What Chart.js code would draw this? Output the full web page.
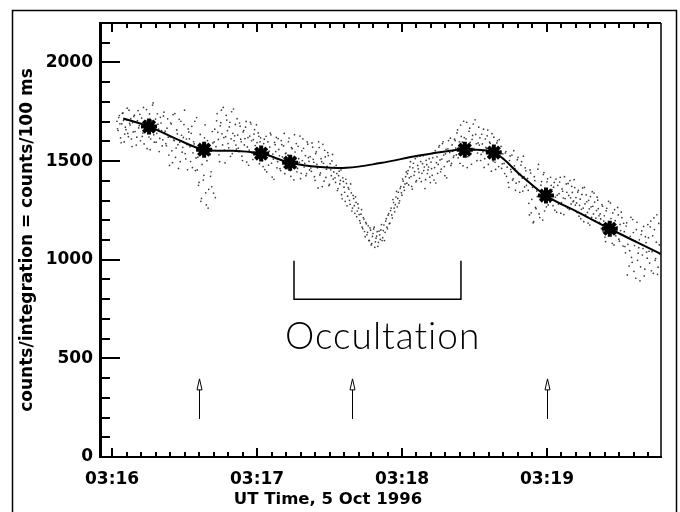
<!DOCTYPE html>
<html>
<head>
<meta charset="utf-8">
<script src="https://cdn.jsdelivr.net/npm/chart.js@4"></script>
<style>
  html, body { margin: 0; padding: 0; background: #fff; }
</style>
</head>
<body>
<canvas id="chart" width="680" height="512"></canvas>
<script>
// time in seconds after 03:16:00 UT
const xTickValues = [0, 60, 120, 180]
const xTickLabels = ['03:16', '03:17', '03:18', '03:19']
const yTickValues = [0, 500, 1000, 1500, 2000]

// raw counts, one every 0.5 s starting at 03:16:02 (second set offset by 0.25 s)
const sampleStart = 2
const sampleStep = 0.5
const counts = [
  1702, 1655, 1731, 1618, 1689, 1744, 1597, 1672, 1710, 1640, 1758, 1683, 1612, 1695, 1726, 1650, 1581, 1705, 1668, 1737,
  1690, 1625, 1772, 1648, 1705, 1563, 1681, 1739, 1612, 1664, 1795, 1596, 1713, 1641, 1687, 1548, 1722, 1655, 1608, 1748,
  1652, 1578, 1714, 1531, 1623, 1689, 1492, 1607, 1741, 1566, 1638, 1463, 1596, 1702, 1545, 1620, 1758, 1511, 1584, 1663,
  1613, 1498, 1676, 1542, 1587, 1452, 1721, 1520, 1392, 1635, 1311, 1566, 1428, 1684, 1278, 1604, 1357, 1532, 1446, 1650,
  1338, 1662, 1573, 1741, 1610, 1497, 1695, 1638, 1772, 1556, 1624, 1708, 1589, 1673, 1524, 1750, 1641, 1603, 1686, 1561,
  1632, 1548, 1677, 1598, 1503, 1655, 1614, 1701, 1572, 1479, 1627, 1688, 1541, 1609, 1660, 1522, 1594, 1643, 1487, 1618,
  1568, 1472, 1611, 1523, 1445, 1597, 1551, 1642, 1489, 1536, 1408, 1583, 1620, 1497, 1559, 1462, 1604, 1521, 1577, 1436,
  1541, 1462, 1598, 1507, 1423, 1563, 1482, 1634, 1519, 1446, 1575, 1494, 1411, 1552, 1613, 1470, 1528, 1437, 1586, 1499,
  1523, 1448, 1571, 1494, 1402, 1547, 1466, 1598, 1430, 1512, 1371, 1489, 1555, 1417, 1473, 1528, 1382, 1456, 1501, 1409,
  1468, 1392, 1437, 1361, 1449, 1402, 1330, 1415, 1368, 1296, 1387, 1322, 1358, 1281, 1339, 1262, 1310, 1235, 1291, 1247,
  1262, 1198, 1231, 1165, 1214, 1143, 1189, 1126, 1172, 1098, 1150, 1082, 1133, 1165, 1091, 1120, 1068, 1145, 1103, 1178,
  1112, 1176, 1139, 1208, 1157, 1234, 1186, 1262, 1211, 1290, 1243, 1318, 1268, 1342, 1299, 1371, 1327, 1398, 1352, 1421,
  1388, 1452, 1415, 1497, 1372, 1466, 1428, 1513, 1401, 1478, 1443, 1525, 1396, 1487, 1452, 1361, 1504, 1437, 1470, 1419,
  1495, 1428, 1541, 1467, 1389, 1522, 1483, 1579, 1446, 1510, 1598, 1472, 1537, 1415, 1562, 1501, 1616, 1488, 1550, 1527,
  1604, 1532, 1658, 1571, 1489, 1625, 1596, 1702, 1548, 1613, 1467, 1584, 1667, 1539, 1610, 1688, 1557, 1635, 1502, 1592,
  1581, 1503, 1636, 1547, 1468, 1612, 1563, 1657, 1520, 1590, 1449, 1557, 1621, 1494, 1540, 1603, 1472, 1528, 1575, 1486,
  1512, 1437, 1548, 1469, 1391, 1503, 1458, 1531, 1410, 1476, 1352, 1448, 1519, 1395, 1433, 1497, 1348, 1421, 1466, 1377,
  1412, 1286, 1455, 1238, 1367, 1193, 1401, 1259, 1321, 1483, 1214, 1378, 1302, 1432, 1247, 1359, 1395, 1278, 1336, 1418,
  1356, 1274, 1392, 1318, 1241, 1377, 1335, 1418, 1289, 1347, 1229, 1310, 1384, 1262, 1326, 1401, 1283, 1341, 1298, 1366,
  1315, 1239, 1352, 1276, 1208, 1331, 1262, 1367, 1227, 1294, 1186, 1258, 1320, 1215, 1271, 1338, 1197, 1249, 1302, 1223,
  1232, 1158, 1271, 1196, 1115, 1248, 1175, 1296, 1132, 1209, 1083, 1186, 1254, 1121, 1167, 1227, 1094, 1148, 1213, 1069,
  1142, 1035, 1187, 1078, 968, 1119, 1012, 1204, 941, 1096, 1153, 997, 1061, 893, 1128, 1024, 1169, 952, 1087, 1008,
  1112, 983, 1196, 1041, 931, 1153, 1006, 1228, 962, 1075
]
const countsB = [
  1664, 1721, 1689, 1593, 1742, 1706, 1637, 1659, 1768, 1624, 1691, 1715, 1574, 1648, 1733, 1697, 1621, 1756, 1680, 1603,
  1718, 1642, 1587, 1699, 1761, 1675, 1622, 1558, 1706, 1784, 1633, 1671, 1596, 1740, 1662, 1615, 1693, 1577, 1729, 1644,
  1589, 1667, 1621, 1478, 1693, 1552, 1736, 1604, 1519, 1658, 1583, 1712, 1497, 1631, 1570, 1685, 1538, 1612, 1456, 1647,
  1573, 1641, 1467, 1598, 1702, 1516, 1455, 1377, 1579, 1296, 1483, 1404, 1618, 1339, 1502, 1262, 1551, 1423, 1370, 1592,
  1597, 1315, 1704, 1646, 1532, 1679, 1758, 1582, 1619, 1491, 1732, 1654, 1567, 1697, 1613, 1538, 1764, 1628, 1581, 1715,
  1566, 1693, 1611, 1525, 1648, 1582, 1672, 1495, 1619, 1556, 1697, 1603, 1508, 1637, 1579, 1684, 1531, 1626, 1598, 1552,
  1503, 1589, 1457, 1626, 1542, 1480, 1571, 1633, 1419, 1510, 1595, 1548, 1466, 1614, 1527, 1452, 1583, 1494, 1640, 1538,
  1478, 1530, 1617, 1452, 1569, 1497, 1405, 1546, 1589, 1463, 1512, 1627, 1438, 1503, 1565, 1489, 1426, 1597, 1518, 1455,
  1465, 1592, 1509, 1421, 1538, 1483, 1364, 1569, 1440, 1497, 1585, 1398, 1521, 1459, 1543, 1376, 1487, 1426, 1534, 1445,
  1415, 1479, 1351, 1426, 1384, 1455, 1309, 1397, 1342, 1408, 1273, 1366, 1301, 1384, 1247, 1326, 1274, 1319, 1218, 1283,
  1229, 1186, 1254, 1157, 1206, 1117, 1182, 1139, 1097, 1161, 1075, 1118, 1156, 1063, 1109, 1142, 1088, 1126, 1151, 1097,
  1148, 1097, 1196, 1165, 1226, 1183, 1249, 1227, 1305, 1262, 1279, 1346, 1311, 1287, 1362, 1339, 1409, 1368, 1384, 1445,
  1436, 1379, 1471, 1422, 1358, 1489, 1447, 1395, 1522, 1461, 1413, 1498, 1438, 1527, 1470, 1406, 1482, 1455, 1512, 1391,
  1462, 1517, 1404, 1553, 1492, 1438, 1571, 1506, 1459, 1589, 1531, 1426, 1560, 1497, 1604, 1543, 1478, 1582, 1519, 1611,
  1566, 1643, 1517, 1598, 1683, 1554, 1476, 1619, 1577, 1697, 1523, 1651, 1595, 1484, 1630, 1563, 1709, 1588, 1541, 1672,
  1618, 1534, 1587, 1662, 1512, 1570, 1628, 1483, 1596, 1545, 1639, 1501, 1566, 1458, 1592, 1517, 1609, 1551, 1463, 1537,
  1488, 1541, 1423, 1492, 1367, 1526, 1445, 1404, 1553, 1462, 1388, 1507, 1431, 1342, 1480, 1414, 1525, 1369, 1451, 1402,
  1352, 1227, 1439, 1306, 1187, 1421, 1265, 1348, 1459, 1232, 1313, 1396, 1201, 1442, 1327, 1268, 1410, 1349, 1292, 1377,
  1303, 1368, 1251, 1409, 1327, 1282, 1394, 1236, 1359, 1313, 1421, 1270, 1342, 1387, 1255, 1314, 1372, 1294, 1406, 1277,
  1288, 1343, 1221, 1307, 1256, 1364, 1193, 1283, 1329, 1240, 1301, 1176, 1268, 1345, 1232, 1292, 1211, 1317, 1259, 1189,
  1207, 1279, 1142, 1223, 1092, 1261, 1184, 1125, 1288, 1160, 1237, 1075, 1198, 1143, 1265, 1104, 1179, 1241, 1126, 1185,
  1067, 1171, 923, 1109, 1046, 1215, 987, 1138, 1072, 906, 1190, 1033, 1101, 964, 1146, 1057, 918, 1117, 1039, 1178,
  1043, 1167, 944, 1121, 1212, 997, 1089, 926, 1184, 1030
]

// smooth fit
const fitTime = [4.6, 15.3, 27, 38.1, 50, 61.7, 73.7, 86, 97, 111, 127, 140, 146, 158, 169, 179.6, 193, 206, 227]
const fitCounts = [1716, 1675, 1610, 1558, 1552, 1538, 1492, 1470, 1466, 1490, 1528, 1553, 1558, 1543, 1430, 1325, 1240, 1157, 1030]

// fit nodes (asterisks)
const nodeTime = [15.3, 38.1, 61.7, 73.7, 146, 158, 179.6, 206]
const nodeCounts = [1675, 1558, 1538, 1492, 1558, 1543, 1325, 1157]

// occultation bracket and arrows
const bracketTime = [75.3, 75.3, 144.4, 144.4]
const bracketCounts = [995, 800, 800, 995]
const arrowTime = [36, 99.3, 180]
const arrowFrom = 193
const arrowTo = 396
const occultLabel = 'Occultation'
const occultAt = [112, 609]

const tickFont = '"DejaVu Sans"'

let points = counts.map((c, i) => ({x: sampleStart + i * sampleStep, y: c}))
countsB.forEach((c, i) => {
    points.push({x: sampleStart + sampleStep / 2 + i * sampleStep, y: c})
})

const decor = {
    id: 'decor',
    beforeDraw(chart){
        const ctx = chart.ctx
        ctx.save()
        ctx.strokeStyle = '#000'
        ctx.lineWidth = 1.5
        ctx.strokeRect(12.5, 10.5, 664, 520)
        ctx.restore()
    },
    afterDraw(chart){
        const {ctx, chartArea: a, scales: {x, y}} = chart
        ctx.save()
        ctx.strokeStyle = '#000'
        ctx.fillStyle = '#000'

        // top and right frame
        ctx.lineWidth = 2
        ctx.beginPath()
        ctx.moveTo(a.left, a.top)
        ctx.lineTo(a.right, a.top)
        ctx.stroke()
        ctx.lineWidth = 1.5
        ctx.beginPath()
        ctx.moveTo(a.right, a.top)
        ctx.lineTo(a.right, a.bottom)
        ctx.stroke()

        // y ticks pointing in
        ctx.lineWidth = 2
        for(let v = 100; v < 2200; v += 100){
            const py = Math.round(y.getPixelForValue(v))
            const len = v % 500 === 0 ? 20 : 10
            ctx.beginPath()
            ctx.moveTo(a.left, py)
            ctx.lineTo(a.left + len, py)
            ctx.stroke()
        }

        // x ticks, bottom and top
        for(let t = 0; t < 227; t += 6){
            const px = Math.round(x.getPixelForValue(t))
            const len = t % 60 === 0 ? 9 : 5
            ctx.beginPath()
            ctx.moveTo(px, a.bottom)
            ctx.lineTo(px, a.bottom - len)
            ctx.moveTo(px, a.top)
            ctx.lineTo(px, a.top + len)
            ctx.stroke()
        }

        // arrows
        ctx.lineWidth = 1
        arrowTime.forEach(t => {
            const px = Math.round(x.getPixelForValue(t)) + 0.5
            const top = y.getPixelForValue(arrowTo)
            const bottom = y.getPixelForValue(arrowFrom)
            ctx.beginPath()
            ctx.moveTo(px, bottom)
            ctx.lineTo(px, top + 11)
            ctx.moveTo(px - 2.5, top + 11)
            ctx.lineTo(px, top)
            ctx.lineTo(px + 2.5, top + 11)
            ctx.closePath()
            ctx.stroke()
        })

        // occultation label
        ctx.font = '300 37px Lato'
        ctx.letterSpacing = '1px'
        ctx.textAlign = 'center'
        ctx.textBaseline = 'middle'
        ctx.fillText(occultLabel, x.getPixelForValue(occultAt[0]), y.getPixelForValue(occultAt[1]))
        ctx.letterSpacing = '0px'

        // axis titles
        ctx.font = 'bold 16.5px ' + tickFont
        ctx.fillText('UT Time, 5 Oct 1996', 328, 500)
        ctx.font = 'bold 17px ' + tickFont
        ctx.translate(28, (a.top + a.bottom) / 2)
        ctx.rotate(-Math.PI / 2)
        ctx.fillText('counts/integration = counts/100 ms', 0, 0)
        ctx.restore()
    }
}

const chart = new Chart(document.getElementById('chart'), {
    type: 'scatter',
    data: {
        datasets: [
            {
                type: 'scatter',
                data: nodeTime.map((t, i) => ({x: t, y: nodeCounts[i]})),
                pointStyle: 'star',
                pointRadius: 8,
                borderWidth: 4,
                borderColor: '#000',
                backgroundColor: '#000'
            },
            {
                type: 'line',
                data: fitTime.map((t, i) => ({x: t, y: fitCounts[i]})),
                borderColor: '#000',
                borderWidth: 2,
                tension: 0.4,
                pointRadius: 0,
                fill: false
            },
            {
                type: 'line',
                data: bracketTime.map((t, i) => ({x: t, y: bracketCounts[i]})),
                borderColor: '#000',
                borderWidth: 1.5,
                tension: 0,
                pointRadius: 0,
                fill: false
            },
            {
                type: 'scatter',
                data: points,
                pointRadius: 0.85,
                borderWidth: 0,
                backgroundColor: '#3a3a3a'
            }
        ]
    },
    options: {
        responsive: false,
        animation: false,
        layout: {padding: {left: 0, top: 23, right: 19, bottom: 0}},
        plugins: {legend: {display: false}, tooltip: {enabled: false}},
        scales: {
            x: {
                type: 'linear',
                min: -5,
                max: 227.2,
                afterBuildTicks: s => { s.ticks = xTickValues.map(v => ({value: v})) },
                afterFit: s => { s.height = 55 },
                ticks: {
                    callback: (v, i) => xTickLabels[i],
                    font: {family: tickFont, size: 17, weight: 'bold'},
                    color: '#000',
                    padding: 12,
                    maxRotation: 0,
                    autoSkip: false
                },
                grid: {display: false, drawTicks: false},
                border: {display: true, color: '#000', width: 2}
            },
            y: {
                min: 0,
                max: 2200,
                afterBuildTicks: s => { s.ticks = yTickValues.map(v => ({value: v})) },
                afterFit: s => { s.width = 100 },
                ticks: {
                    callback: v => String(v),
                    font: {family: tickFont, size: 17, weight: 'bold'},
                    color: '#000',
                    padding: 7,
                    autoSkip: false
                },
                grid: {display: false, drawTicks: false},
                border: {display: true, color: '#000', width: 3}
            }
        }
    },
    plugins: [decor]
})
</script>
</body>
</html>
